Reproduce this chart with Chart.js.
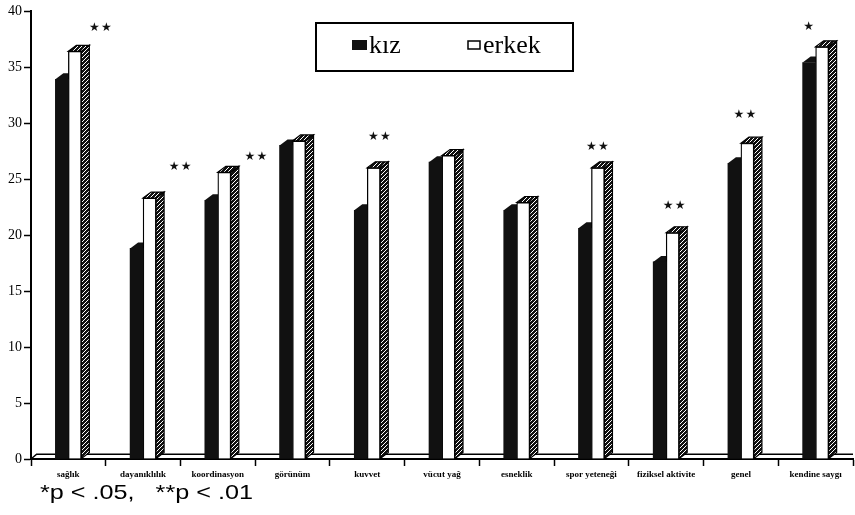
<!DOCTYPE html>
<html>
<head>
<meta charset="utf-8">
<script src="https://cdn.jsdelivr.net/npm/chart.js@4.4.1/dist/chart.umd.min.js"></script>
<style>
  html, body { margin: 0; padding: 0; background: #fff; }
  #wrap { position: relative; width: 855px; height: 515px; }
  #note {
    position: absolute; left: 40px; top: 481px;
    font: 21px 'Liberation Sans', Arial, sans-serif; line-height: 21px;
    color: #000; white-space: pre;
    transform: scaleX(1.2); transform-origin: 0 0;
  }
</style>
</head>
<body>
<div id="wrap">
  <canvas id="chart" width="855" height="515"></canvas>
  <div id="note">*p &lt; .05,   **p &lt; .01</div>
</div>
<script>
// data
const categories = ['sağlık', 'dayanıklılık', 'koordinasyon', 'görünüm', 'kuvvet', 'vücut yağ',
  'esneklik', 'spor yeteneği', 'fiziksel aktivite', 'genel', 'kendine saygı'];
const kiz = [33.9, 18.8, 23.1, 28.0, 22.2, 26.5, 22.2, 20.6, 17.6, 26.4, 35.4];
const erkek = [36.4, 23.3, 25.6, 28.4, 26.0, 27.1, 22.9, 26.0, 20.2, 28.2, 36.8];
const significance = ['**', '**', '**', '', '**', '', '', '**', '**', '**', '*'];
const yMin = 0, yMax = 40, yStep = 5;

// where the stars sit: shift from category centre (px) and height on the y scale
const starSpots = [
  { dx: 32, y: 38.5 }, { dx: 37, y: 26.1 }, { dx: 38, y: 27.0 }, null, { dx: 12, y: 28.75 },
  null, null, { dx: 6, y: 27.9 }, { dx: 8, y: 22.6 }, { dx: 4, y: 30.7 }, { dx: -7, y: 38.6 }
];

const DX = 8, DY = 6;
let hatch = null;
function getHatch(ctx) {
  if (hatch) return hatch;
  const c = document.createElement('canvas');
  c.width = 4; c.height = 4;
  const g = c.getContext('2d');
  g.fillStyle = '#111';
  g.fillRect(0, 0, 4, 4);
  g.strokeStyle = '#fff';
  g.lineWidth = 1;
  g.beginPath(); g.moveTo(-1, 5); g.lineTo(5, -1); g.stroke();
  hatch = ctx.createPattern(c, 'repeat');
  return hatch;
}

function poly(ctx, pts) {
  ctx.beginPath();
  ctx.moveTo(pts[0][0], pts[0][1]);
  for (let i = 1; i < pts.length; i++) ctx.lineTo(pts[i][0], pts[i][1]);
  ctx.closePath();
}

const bar3d = {
  id: 'bar3d',
  beforeDatasetsDraw(chart) {
    const ctx = chart.ctx;
    const { left, right, bottom } = chart.chartArea;
    ctx.save();
    // floor
    ctx.strokeStyle = '#000';
    ctx.lineWidth = 1.5;
    ctx.beginPath();
    ctx.moveTo(left, bottom);
    ctx.lineTo(left + DX * 0.7, bottom - DY * 0.8);
    ctx.lineTo(right, bottom - DY * 0.8);
    ctx.stroke();
    // kız top + side, behind the erkek front
    chart.getDatasetMeta(0).data.forEach(b => {
      const x0 = b.x - b.width / 2, x1 = b.x + b.width / 2;
      ctx.fillStyle = '#111';
      poly(ctx, [[x0, b.y], [x0 + DX, b.y - DY], [x1 + DX, b.y - DY], [x1 + DX, b.base - DY], [x1, b.base], [x1, b.y]]);
      ctx.fill();
    });
    ctx.restore();
  },
  afterDatasetsDraw(chart) {
    const ctx = chart.ctx;
    ctx.save();
    ctx.strokeStyle = '#000';
    ctx.lineWidth = 1.2;
    chart.getDatasetMeta(1).data.forEach(b => {
      const x0 = b.x - b.width / 2, x1 = b.x + b.width / 2;
      ctx.fillStyle = getHatch(ctx);
      poly(ctx, [[x1, b.y], [x1 + DX, b.y - DY], [x1 + DX, b.base - DY], [x1, b.base]]);
      ctx.fill(); ctx.stroke();
      poly(ctx, [[x0, b.y], [x0 + DX, b.y - DY], [x1 + DX, b.y - DY], [x1, b.y]]);
      ctx.fill(); ctx.stroke();
    });
    // significance stars
    const xs = chart.scales.x, ys = chart.scales.y;
    ctx.fillStyle = '#111';
    ctx.font = "12px 'DejaVu Sans'";
    ctx.textAlign = 'center';
    ctx.textBaseline = 'middle';
    significance.forEach((s, i) => {
      const spot = starSpots[i];
      if (!s || !spot) return;
      const cx = xs.getPixelForValue(i) + spot.dx, cy = ys.getPixelForValue(spot.y);
      const n = s.length;
      for (let k = 0; k < n; k++) ctx.fillText('★', cx + (k - (n - 1) / 2) * 12, cy);
    });
    ctx.restore();
  },
  afterDraw(chart) {
    // boxed legend inside the plot
    const ctx = chart.ctx;
    const ds = chart.data.datasets;
    ctx.save();
    ctx.fillStyle = '#fff';
    ctx.fillRect(316, 23, 257, 48);
    ctx.strokeStyle = '#000';
    ctx.lineWidth = 2;
    ctx.strokeRect(316, 23, 257, 48);
    ctx.font = "26px 'Liberation Serif', 'Times New Roman', serif";
    ctx.textBaseline = 'alphabetic';
    ctx.fillStyle = ds[0].backgroundColor;
    ctx.fillRect(352, 40, 15, 10);
    ctx.fillStyle = '#000';
    ctx.fillText(ds[0].label, 369, 53);
    ctx.fillStyle = ds[1].backgroundColor;
    ctx.fillRect(468, 41, 12, 8);
    ctx.lineWidth = 1.5;
    ctx.strokeRect(468, 41, 12, 8);
    ctx.fillStyle = '#000';
    ctx.fillText(ds[1].label, 483, 53);
    ctx.restore();
  }
};

new Chart(document.getElementById('chart'), {
  type: 'bar',
  data: {
    labels: categories,
    datasets: [
      { label: 'kız', data: kiz, backgroundColor: '#111', borderWidth: 0 },
      { label: 'erkek', data: erkek, backgroundColor: '#fff', borderColor: '#000', borderWidth: 1.3 }
    ]
  },
  options: {
    responsive: false,
    animation: false,
    devicePixelRatio: 1,
    barThickness: 13,
    layout: { padding: { top: 11, right: 2, bottom: 36, left: 0 } },
    plugins: { legend: { display: false }, tooltip: { enabled: false } },
    scales: {
      x: {
        afterFit(s) { s.height = 20; },
        border: { display: true, color: '#000', width: 2 },
        grid: { drawOnChartArea: false, drawTicks: true, tickLength: 7, tickColor: '#000', tickWidth: 1.5, offset: true },
        ticks: {
          color: '#000', maxRotation: 0, autoSkip: false, padding: 3,
          font: { family: "'Liberation Serif', serif", size: 9, weight: 'bold' }
        }
      },
      y: {
        min: yMin, max: yMax,
        afterFit(s) { s.width = 31; },
        border: { display: true, color: '#000', width: 2 },
        grid: { drawOnChartArea: false, drawTicks: true, tickLength: 7, tickColor: '#000', tickWidth: 1.5 },
        ticks: {
          stepSize: yStep, color: '#000', padding: 2,
          font: { family: "'Liberation Serif', serif", size: 14 }
        }
      }
    }
  },
  plugins: [bar3d]
});
</script>
</body>
</html>
